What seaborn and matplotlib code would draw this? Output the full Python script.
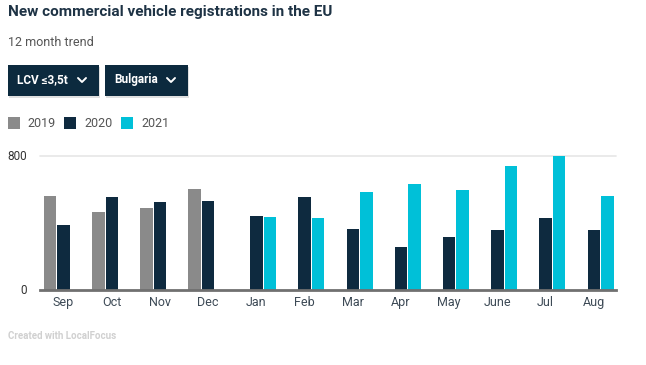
import matplotlib
matplotlib.use("Agg")
import matplotlib.pyplot as plt
import seaborn as sns
import pandas as pd
import numpy as np
from matplotlib.patches import Rectangle
from matplotlib.lines import Line2D

months = ["Sep", "Oct", "Nov", "Dec", "Jan", "Feb", "Mar", "Apr", "May", "June", "Jul", "Aug"]
years = ["2019", "2020", "2021"]
v2019 = [557, 463, 485, 599, np.nan, np.nan, np.nan, np.nan, np.nan, np.nan, np.nan, np.nan]
v2020 = [384, 551, 521, 527, 438, 551, 360, 253, 312, 354, 426, 354]
v2021 = [np.nan, np.nan, np.nan, np.nan, 432, 426, 581, 629, 593, 736, 798, 557]
colors = ["#8a8a8a", "#0e2a3f", "#00c0d8"]
yticks = [0, 800]

rows = []
for y, vals in zip(years, [v2019, v2020, v2021]):
    for m, v in zip(months, vals):
        rows.append({"month": m, "year": y, "value": v})
df = pd.DataFrame(rows)

sns.set_theme(style="white")
plt.rcParams["font.family"] = ["Roboto", "DejaVu Sans"]

W, H = 646, 365
fig = plt.figure(figsize=(W / 100, H / 100), dpi=100)

def fx(x):
    return x / W

def fy(y):
    return 1 - y / H

ax_left, ax_right, ax_top, ax_bottom = 39.5, 615.5, 155.5, 289.5
ax = fig.add_axes([fx(ax_left), fy(ax_bottom), fx(ax_right - ax_left), (ax_bottom - ax_top) / H])

sns.barplot(data=df, x="month", y="value", hue="year", order=months, hue_order=years,
            palette=colors, width=0.84, gap=0.07, errorbar=None, ax=ax, legend=False,
            saturation=1)

ax.set_xlim(-0.5, 11.45)
ax.set_ylim(0, 800)
ax.set_yticks(yticks)
ax.set_yticklabels([str(t) for t in yticks])
ax.set_xlabel("")
ax.set_ylabel("")
for p in ax.patches:
    p.set_clip_on(False)
    p.set_linewidth(0)
for s in ["top", "right", "left"]:
    ax.spines[s].set_visible(False)
ax.spines["bottom"].set_color("#707070")
ax.spines["bottom"].set_linewidth(2)
ax.axhline(800, color="#e6e6e6", lw=1.2, zorder=0, clip_on=False)
ax.tick_params(axis="x", length=0, pad=5, labelsize=9, labelcolor="#3d4a56")
ax.tick_params(axis="y", length=0, pad=9, labelsize=8.5, labelcolor="#333333")
ax.grid(False)

# Title / subtitle
fig.text(fx(8), fy(12), "New commercial vehicle registrations in the EU", fontsize=11,
         fontweight="bold", color="#1e3345", ha="left", va="center")
fig.text(fx(8), fy(43), "12 month trend", fontsize=9, color="#555555", ha="left", va="center")

# Buttons
def button(x0, x1, label, chev_x):
    y0, y1 = 65, 96
    sh = Rectangle((fx(x0 + 1), fy(y1 + 2)), fx(x1 - x0), (y1 - y0) / H,
                   transform=fig.transFigure, facecolor="#000000", alpha=0.12, lw=0)
    fig.patches.append(sh)
    r = Rectangle((fx(x0), fy(y1)), fx(x1 - x0), (y1 - y0) / H,
                  transform=fig.transFigure, facecolor="#0c2a3e", lw=0)
    fig.patches.append(r)
    fig.text(fx(x0 + 9), fy(80), label, fontsize=8.5, fontweight="bold", color="white",
             ha="left", va="center", family=["Roboto", "DejaVu Sans"])
    l = Line2D([fx(chev_x - 4), fx(chev_x), fx(chev_x + 4)], [fy(78), fy(82), fy(78)],
               transform=fig.transFigure, color="white", lw=1.4)
    fig.lines.append(l)

button(8, 99, "LCV ≤3,5t", 82)
button(105, 188, "Bulgaria", 171)

# Legend
leg = [(8, "2019", 27), (64, "2020", 84), (121, "2021", 141)]
for (sx, lab, tx), c in zip(leg, colors):
    sq = Rectangle((fx(sx), fy(129)), fx(12), 12 / H, transform=fig.transFigure,
                   facecolor=c, lw=0)
    fig.patches.append(sq)
    fig.text(fx(tx), fy(123), lab, fontsize=9, color="#555555", ha="left", va="center")

fig.text(fx(8), fy(336), "Created with LocalFocus", fontsize=7, color="#d0d0d0",
         fontweight="bold", ha="left", va="center")

fig.savefig("out.png", dpi=100, facecolor="white")
